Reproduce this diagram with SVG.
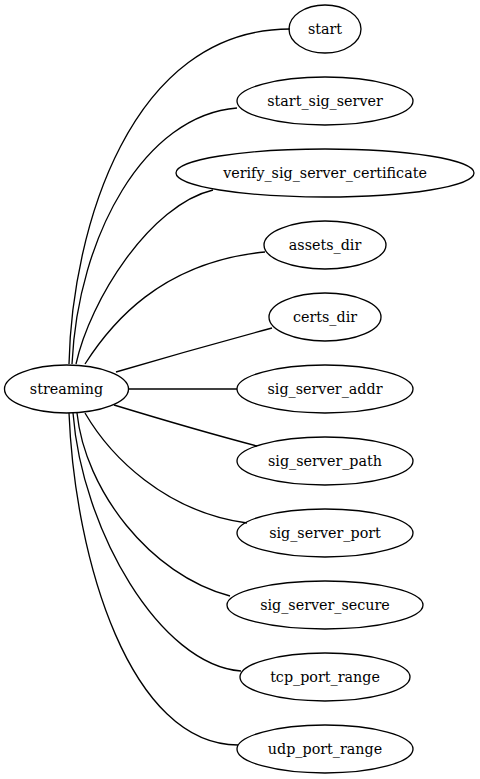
<svg xmlns="http://www.w3.org/2000/svg" width="480" height="779" viewBox="0 0 480 779">
<style>
.n ellipse{fill:none;stroke:#000;stroke-width:1.33}
.n text{font-family:"DejaVu Serif",serif;font-size:14.3px;text-anchor:middle;fill:#000}
#edges path{fill:none;stroke:#000;stroke-width:1.33}
</style>
<rect width="480" height="779" fill="#fff"/>
<g id="edges">
<path d="M69,364 C72,230 130,29 290,29"/>
<path d="M72,364 C78,235 145,115 237,108"/>
<path d="M76,364 C90,300 150,205 213,190"/>
<path d="M85,364 C110,325 160,262 265,252"/>
<path d="M116,372 C160,359 220,342 272,328"/>
<path d="M128,389 L237,389"/>
<path d="M114,405 C160,419 215,435 257,446"/>
<path d="M85,413 C110,456 165,512 247,523"/>
<path d="M77,413 C85,490 150,575 230,596"/>
<path d="M73,413 C82,530 160,665 241,671"/>
<path d="M69,413 C75,560 130,745 238,745"/>
</g>
<g id="streaming" class="n"><ellipse cx="66.5" cy="389" rx="62" ry="24"/><text x="66.5" y="394">streaming</text></g>
<g id="start" class="n"><ellipse cx="325" cy="29" rx="36" ry="24"/><text x="325" y="34">start</text></g>
<g id="start_sig_server" class="n"><ellipse cx="325" cy="101" rx="88" ry="24"/><text x="325" y="106">start_sig_server</text></g>
<g id="verify_sig_server_certificate" class="n"><ellipse cx="325" cy="173" rx="149" ry="24"/><text x="325" y="178">verify_sig_server_certificate</text></g>
<g id="assets_dir" class="n"><ellipse cx="325" cy="245" rx="61" ry="24"/><text x="325" y="250">assets_dir</text></g>
<g id="certs_dir" class="n"><ellipse cx="325" cy="317" rx="56" ry="24"/><text x="325" y="322">certs_dir</text></g>
<g id="sig_server_addr" class="n"><ellipse cx="325" cy="389" rx="88" ry="24"/><text x="325" y="394">sig_server_addr</text></g>
<g id="sig_server_path" class="n"><ellipse cx="325" cy="461" rx="88" ry="24"/><text x="325" y="466">sig_server_path</text></g>
<g id="sig_server_port" class="n"><ellipse cx="325" cy="533" rx="88" ry="24"/><text x="325" y="538">sig_server_port</text></g>
<g id="sig_server_secure" class="n"><ellipse cx="325" cy="605" rx="98" ry="24"/><text x="325" y="610">sig_server_secure</text></g>
<g id="tcp_port_range" class="n"><ellipse cx="325" cy="677" rx="85" ry="24"/><text x="325" y="682">tcp_port_range</text></g>
<g id="udp_port_range" class="n"><ellipse cx="325" cy="749" rx="88" ry="24"/><text x="325" y="754">udp_port_range</text></g>
</svg>
